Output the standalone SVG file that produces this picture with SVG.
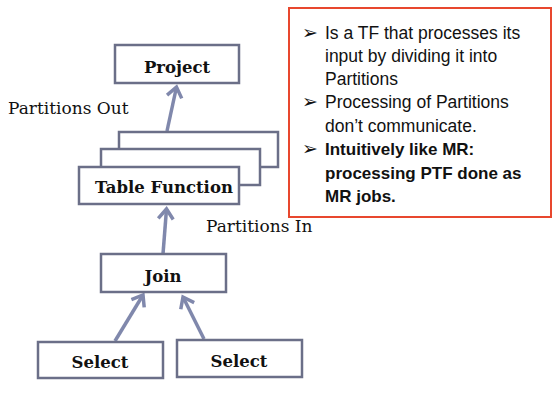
<svg xmlns="http://www.w3.org/2000/svg" width="560" height="406" viewBox="0 0 560 406">
<defs>
<marker id="chev" markerUnits="userSpaceOnUse" markerWidth="24" markerHeight="24" refX="0" refY="0" viewBox="-14 -12 24 24" orient="auto" overflow="visible">
<path d="M -10 -7.5 L 0 0 L -10 7.5" fill="none" stroke="#8088ac" stroke-width="3.5" stroke-linejoin="miter" stroke-linecap="butt"/>
</marker>
</defs>
<style>
.box{fill:#fff;stroke:#6b6f88;stroke-width:2.5}
.lbl{font-family:"DejaVu Serif",serif;font-weight:bold;font-size:16.5px;fill:#111;text-anchor:middle}
.cap{font-family:"DejaVu Serif",serif;font-size:17px;fill:#111}
.arr{stroke:#8088ac;stroke-width:3.5;fill:none;marker-end:url(#chev)}
.note{font-family:"Liberation Sans",Arial,sans-serif;font-size:17.5px;fill:#111}
.b{font-weight:bold;font-size:17px}
.bul{font-family:"DejaVu Sans",sans-serif;font-size:19px;fill:#111}
</style>
<rect width="560" height="406" fill="#fff"/>
<g id="connectors">
<line class="arr" x1="167" y1="131" x2="176.5" y2="87"/>
<line class="arr" x1="163" y1="254" x2="166.5" y2="209"/>
<line class="arr" x1="115" y1="341" x2="143" y2="295"/>
<line class="arr" x1="204" y1="339" x2="183" y2="297"/>
</g>
<g id="project">
<rect class="box" x="115" y="45" width="124" height="38"/>
<text class="lbl" x="177" y="73">Project</text>
</g>
<g id="table-function">
<rect class="box" x="119" y="132" width="159" height="35"/>
<rect class="box" x="101" y="149" width="159" height="36"/>
<rect class="box" x="79" y="167" width="160" height="37"/>
<text class="lbl" x="164" y="193">Table Function</text>
</g>
<g id="join">
<rect class="box" x="101" y="254" width="125" height="38"/>
<text class="lbl" x="163" y="282">Join</text>
</g>
<g id="select-left">
<rect class="box" x="38" y="342" width="125" height="36"/>
<text class="lbl" x="100" y="368">Select</text>
</g>
<g id="select-right">
<rect class="box" x="177" y="340" width="125" height="37"/>
<text class="lbl" x="239" y="367">Select</text>
</g>
<g id="labels">
<text class="cap" x="8" y="114">Partitions Out</text>
<text class="cap" x="206" y="232">Partitions In</text>
</g>
<g id="note">
<rect x="289" y="8" width="262" height="209" fill="#fff" stroke="#e8472e" stroke-width="2"/>
<text class="bul" x="302" y="39">➢</text>
<text class="note" x="325" y="39">Is a TF that processes its</text>
<text class="note" x="325" y="62">input by dividing it into</text>
<text class="note" x="325" y="85">Partitions</text>
<text class="bul" x="302" y="108">➢</text>
<text class="note" x="325" y="108">Processing of Partitions</text>
<text class="note" x="325" y="132">don’t communicate.</text>
<text class="bul" x="302" y="155" font-weight="bold">➢</text>
<text class="note b" x="325" y="155">Intuitively like MR:</text>
<text class="note b" x="325" y="179">processing PTF done as</text>
<text class="note b" x="325" y="202">MR jobs.</text>
</g>
</svg>
